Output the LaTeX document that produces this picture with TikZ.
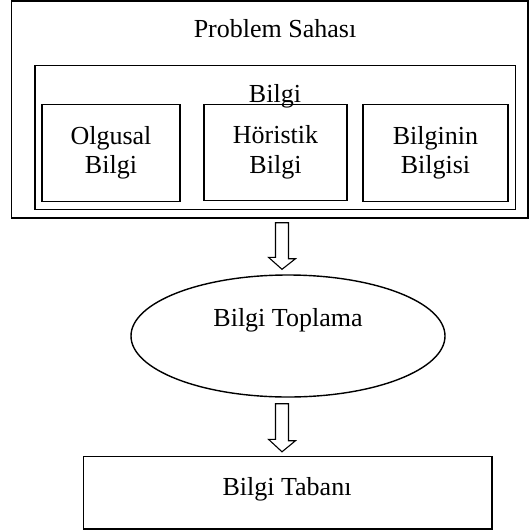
\documentclass[tikz,border=0pt]{standalone}
\usepackage{fontspec}
\setmainfont{Liberation Serif}
\usetikzlibrary{shapes.geometric,calc}
\begin{document}
\begin{tikzpicture}[x=1pt,y=-1pt,
  box/.style={draw, line width=1.4pt, inner sep=0pt, align=center,
    font=\fontsize{26}{29.5}\selectfont},
  lbl/.style={font=\fontsize{26}{30}\selectfont, anchor=base, inner sep=0pt},
  blockarrow/.style={draw, line width=1.1pt, fill=white, line join=miter}]
\useasboundingbox (0,0) rectangle (530,531);
\node[box, minimum width=516.5pt, minimum height=217pt] (outer) at (269.75,109.5) {};
\node[box, minimum width=480.5pt, minimum height=144pt] (inner) at (275.25,137.5) {};
\node[box, minimum width=138pt, minimum height=97pt] (olg) at (111,153) {Olgusal\\Bilgi};
\node[box, minimum width=143pt, minimum height=96.5pt] (hor) at (275.5,152.5) {Höristik\\Bilgi};
\node[box, minimum width=145pt, minimum height=97pt] (bb) at (435.5,153) {Bilginin\\Bilgisi};
\node[lbl] (t1) at (275,37) {Problem Sahası};
\node[lbl] (t2) at (275,102) {Bilgi};
\node[draw, ellipse, line width=1.4pt, minimum width=314pt, minimum height=122pt, inner sep=0pt] (ell) at (288,336) {};
\node[lbl] (t3) at (288,326.5) {Bilgi Toplama};
\node[box, minimum width=408.5pt, minimum height=72.5pt] (base) at (287.75,492.75) {};
\node[lbl] (t4) at (287,495) {Bilgi Tabanı};
% block arrows
\coordinate (a1) at ($(outer.south)!0!(outer.south)+(12.25,4)$);
\draw[blockarrow] (a1) ++(-6.5,0) -- ++(13,0) -- ++(0,36) -- ++(7,0) -- ($(ell.north)+(-6,-5)$) -- ++(-13.5,-12) -- ++(7,0) -- cycle;
\coordinate (a2) at ($(ell.south)+(-6,6)$);
\draw[blockarrow] (a2) ++(-6.5,0) -- ++(13,0) -- ++(0,37) -- ++(7,0) -- ($(base.north)+(-5.75,-4)$) -- ++(-13.5,-12.5) -- ++(7,0) -- cycle;
\end{tikzpicture}
\end{document}
